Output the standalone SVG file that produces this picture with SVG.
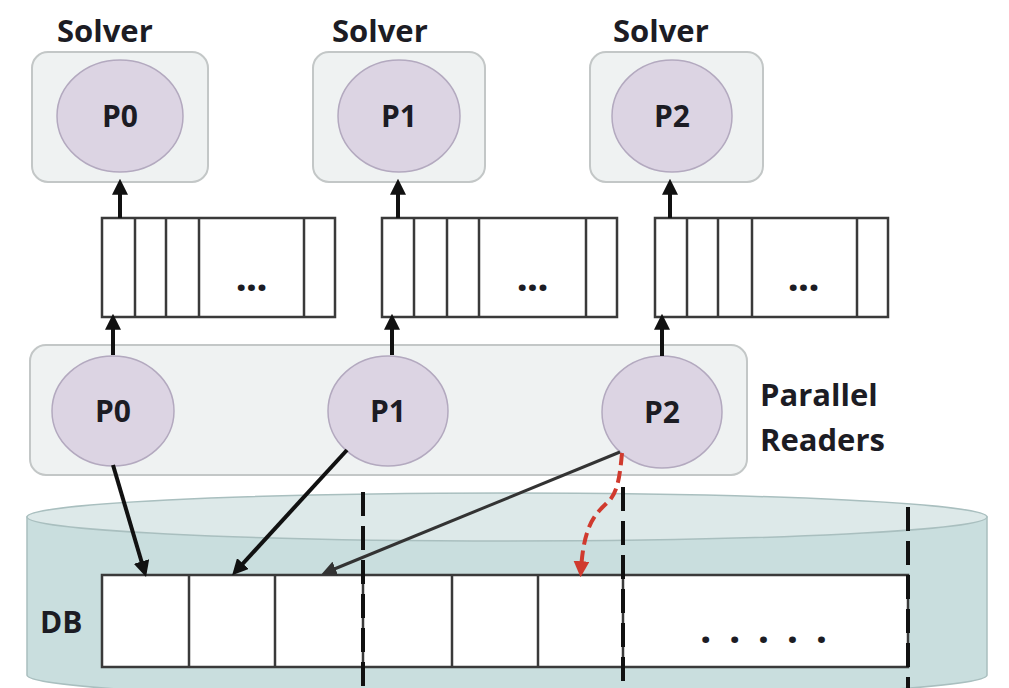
<svg xmlns="http://www.w3.org/2000/svg" width="1009" height="688" viewBox="0 0 1009 688">
<style>
.box{fill:#eff2f2;stroke:#c3c7c7;stroke-width:2}
.proc{fill:#dcd4e3;stroke:#b3a9bf;stroke-width:1.5}
.lbl{font-family:"Open Sans","Liberation Sans",sans-serif;font-weight:bold;fill:#1c1c24}
.cell{fill:#fff;stroke:#3a3a3a;stroke-width:2.5}
.cdiv{stroke:#3a3a3a;stroke-width:2.5}
.arr{stroke:#111;stroke-width:4;fill:none}
.dash{stroke:#111;stroke-width:4;stroke-dasharray:24,10;fill:none}
</style>
<defs>
<marker id="ah" markerWidth="4" markerHeight="4" refX="2.2" refY="2" orient="auto" markerUnits="strokeWidth">
<path d="M0,0 L4,2 L0,4 Z" fill="#111"/>
</marker>
<marker id="ahg" markerWidth="5" markerHeight="5" refX="3" refY="2.5" orient="auto" markerUnits="strokeWidth">
<path d="M0,0 L5,2.5 L0,5 Z" fill="#333"/>
</marker>
<marker id="ahr" markerWidth="4" markerHeight="4" refX="2.2" refY="2" orient="auto" markerUnits="strokeWidth">
<path d="M0,0 L4,2 L0,4 Z" fill="#d03a2e"/>
</marker>
</defs>
<rect width="1009" height="688" fill="#fff"/>

<g id="db">
<path d="M27,517 L27,675 A480,24 0 0 0 987,675 L987,517 Z" fill="#c9dede" stroke="#a9bfbf" stroke-width="1.5"/>
<ellipse cx="507" cy="517" rx="480" ry="24" fill="#dde9e9" stroke="#a9bfbf" stroke-width="1.5"/>
<rect class="cell" x="102" y="575" width="806" height="92"/>
<line class="cdiv" x1="189" y1="575" x2="189" y2="667"/>
<line class="cdiv" x1="275" y1="575" x2="275" y2="667"/>
<line class="cdiv" x1="363" y1="575" x2="363" y2="667"/>
<line class="cdiv" x1="452" y1="575" x2="452" y2="667"/>
<line class="cdiv" x1="538" y1="575" x2="538" y2="667"/>
<line class="cdiv" x1="623" y1="575" x2="623" y2="667"/>
<text class="lbl" x="40" y="633" font-size="30">DB</text>
<text class="lbl" x="700" y="643" font-size="40" letter-spacing="17.5">.....</text>
<line class="dash" x1="363" y1="492" x2="363" y2="688"/>
<line class="dash" x1="623" y1="487" x2="623" y2="688"/>
<line class="dash" x1="908" y1="507" x2="908" y2="688"/>
</g>

<g id="readers">
<rect class="box" x="30" y="345" width="717" height="130" rx="16"/>
<text class="lbl" x="760" y="406" font-size="31">Parallel</text>
<text class="lbl" x="760" y="451" font-size="31">Readers</text>
</g>
<g id="reader-p0">
<ellipse class="proc" cx="113" cy="411" rx="61" ry="55"/>
<text class="lbl" x="113" y="422" font-size="30" text-anchor="middle">P0</text>
</g>
<g id="reader-p1">
<ellipse class="proc" cx="388" cy="411" rx="60" ry="55"/>
<text class="lbl" x="388" y="422" font-size="30" text-anchor="middle">P1</text>
</g>
<g id="reader-p2">
<ellipse class="proc" cx="662" cy="412" rx="60" ry="56"/>
<text class="lbl" x="662" y="423" font-size="30" text-anchor="middle">P2</text>
</g>

<g id="solver-p0">
<text class="lbl" x="57" y="42" font-size="31">Solver</text>
<rect class="box" x="32" y="52" width="176" height="130" rx="16"/>
<ellipse class="proc" cx="120" cy="116" rx="63" ry="56"/>
<text class="lbl" x="120" y="127" font-size="30" text-anchor="middle">P0</text>
</g>
<g id="solver-p1">
<text class="lbl" x="332" y="42" font-size="31">Solver</text>
<rect class="box" x="313" y="52" width="172" height="130" rx="16"/>
<ellipse class="proc" cx="399" cy="116" rx="61" ry="56"/>
<text class="lbl" x="399" y="127" font-size="30" text-anchor="middle">P1</text>
</g>
<g id="solver-p2">
<text class="lbl" x="613" y="42" font-size="31">Solver</text>
<rect class="box" x="590" y="52" width="173" height="130" rx="16"/>
<ellipse class="proc" cx="672" cy="116" rx="60" ry="56"/>
<text class="lbl" x="672" y="127" font-size="30" text-anchor="middle">P2</text>
</g>

<g id="queue-0">
<rect class="cell" x="102" y="218" width="233" height="99"/>
<line class="cdiv" x1="135" y1="218" x2="135" y2="317"/>
<line class="cdiv" x1="166" y1="218" x2="166" y2="317"/>
<line class="cdiv" x1="199" y1="218" x2="199" y2="317"/>
<line class="cdiv" x1="304" y1="218" x2="304" y2="317"/>
<text class="lbl" x="251" y="291" font-size="40" text-anchor="middle" letter-spacing="-1">...</text>
</g>
<g id="queue-1">
<rect class="cell" x="382" y="218" width="235" height="99"/>
<line class="cdiv" x1="414" y1="218" x2="414" y2="317"/>
<line class="cdiv" x1="447" y1="218" x2="447" y2="317"/>
<line class="cdiv" x1="479" y1="218" x2="479" y2="317"/>
<line class="cdiv" x1="586" y1="218" x2="586" y2="317"/>
<text class="lbl" x="532" y="291" font-size="40" text-anchor="middle" letter-spacing="-1">...</text>
</g>
<g id="queue-2">
<rect class="cell" x="655" y="218" width="233" height="99"/>
<line class="cdiv" x1="687" y1="218" x2="687" y2="317"/>
<line class="cdiv" x1="718" y1="218" x2="718" y2="317"/>
<line class="cdiv" x1="752" y1="218" x2="752" y2="317"/>
<line class="cdiv" x1="857" y1="218" x2="857" y2="317"/>
<text class="lbl" x="803" y="291" font-size="40" text-anchor="middle" letter-spacing="-1">...</text>
</g>

<g id="connectors">
<line class="arr" x1="120" y1="218" x2="120" y2="186" marker-end="url(#ah)"/>
<line class="arr" x1="398" y1="218" x2="398" y2="186" marker-end="url(#ah)"/>
<line class="arr" x1="670" y1="218" x2="670" y2="186" marker-end="url(#ah)"/>
<line class="arr" x1="113" y1="355" x2="113" y2="321" marker-end="url(#ah)"/>
<line class="arr" x1="392" y1="355" x2="392" y2="321" marker-end="url(#ah)"/>
<line class="arr" x1="662" y1="356" x2="662" y2="321" marker-end="url(#ah)"/>
<line class="arr" x1="113" y1="465" x2="144" y2="570" marker-end="url(#ah)"/>
<line class="arr" x1="347" y1="450" x2="237" y2="570" marker-end="url(#ah)"/>
<line x1="620" y1="452" x2="327" y2="572" stroke="#333" stroke-width="3" marker-end="url(#ahg)"/>
<path d="M622,453 C620,475 618,490 610,500 C598,512 584,520 581,570" fill="none" stroke="#d03a2e" stroke-width="4" stroke-dasharray="12,6" marker-end="url(#ahr)"/>
</g>
</svg>
